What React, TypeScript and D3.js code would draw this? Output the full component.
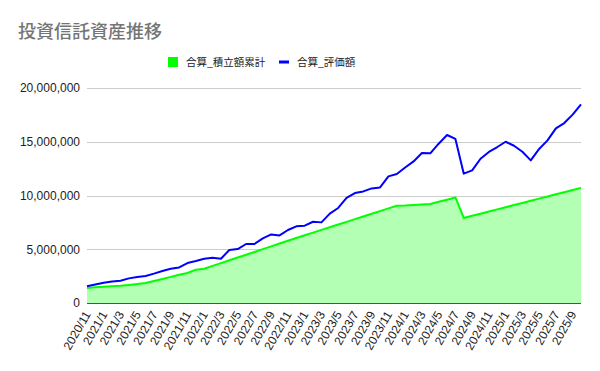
import { useEffect, useRef } from "react";
import * as d3 from "d3";

const months = [
  "2020/11", "2020/12",
  "2021/1", "2021/2", "2021/3", "2021/4", "2021/5", "2021/6", "2021/7", "2021/8", "2021/9", "2021/10", "2021/11", "2021/12",
  "2022/1", "2022/2", "2022/3", "2022/4", "2022/5", "2022/6", "2022/7", "2022/8", "2022/9", "2022/10", "2022/11", "2022/12",
  "2023/1", "2023/2", "2023/3", "2023/4", "2023/5", "2023/6", "2023/7", "2023/8", "2023/9", "2023/10", "2023/11", "2023/12",
  "2024/1", "2024/2", "2024/3", "2024/4", "2024/5", "2024/6", "2024/7", "2024/8", "2024/9", "2024/10", "2024/11", "2024/12",
  "2025/1", "2025/2", "2025/3", "2025/4", "2025/5", "2025/6", "2025/7", "2025/8", "2025/9", "2025/10",
];

// 合算_積立額累計
const contributed = [
  1400000, 1470000, 1520000, 1570000, 1610000, 1680000, 1760000, 1860000, 2050000, 2240000,
  2430000, 2620000, 2790000, 3100000, 3190000, 3450000, 3710000, 3970000, 4230000, 4490000,
  4750000, 5010000, 5270000, 5530000, 5790000, 6050000, 6300000, 6550000, 6800000, 7050000,
  7300000, 7550000, 7800000, 8050000, 8300000, 8550000, 8800000, 9050000, 9070000, 9120000,
  9170000, 9210000, 9410000, 9610000, 9820000, 7910000, 8110000, 8310000, 8510000, 8710000,
  8910000, 9110000, 9310000, 9510000, 9710000, 9910000, 10110000, 10310000, 10510000, 10710000,
];

// 合算_評価額
const valuation = [
  1560000, 1730000, 1890000, 2010000, 2070000, 2290000, 2420000, 2510000, 2730000, 2980000,
  3190000, 3310000, 3720000, 3910000, 4120000, 4210000, 4120000, 4930000, 5020000, 5490000,
  5490000, 6010000, 6380000, 6290000, 6790000, 7130000, 7190000, 7560000, 7500000, 8310000,
  8840000, 9770000, 10230000, 10380000, 10660000, 10750000, 11780000, 12000000, 12610000, 13170000,
  13950000, 13920000, 14820000, 15630000, 15260000, 12030000, 12340000, 13420000, 14050000, 14510000,
  15000000, 14630000, 14070000, 13270000, 14330000, 15130000, 16240000, 16740000, 17520000, 18470000,
];

const yTicks = [0, 5000000, 10000000, 15000000, 20000000];

const seriesNames = ["合算_積立額累計", "合算_評価額"];

const width = 600;
const height = 371;
const font = "'Liberation Sans', Arial, 'Noto Sans CJK JP', sans-serif";
const cjkFont = "'Noto Sans CJK JP', 'Liberation Sans', sans-serif";

const App = () => {
  const svgRef = useRef<SVGSVGElement | null>(null);

  useEffect(() => {
    if (!svgRef.current) return;
    const svg = d3.select(svgRef.current);
    svg.selectAll("*").remove();

    const left = 87;
    const right = 581;
    const top = 88;
    const bottom = 303;

    const x = d3.scalePoint<string>().domain(months).range([left, right]);
    const y = d3.scaleLinear().domain([0, 20000000]).range([bottom, top]);

    svg
      .append("text")
      .attr("x", 18)
      .attr("y", 38)
      .attr("font-family", cjkFont)
      .attr("font-size", 18)
      .attr("font-weight", 500)
      .attr("fill", "#757575")
      .text("投資信託資産推移");

    // gridlines
    const grid = d3
      .axisLeft(y)
      .tickValues(yTicks)
      .tickSize(-(right - left))
      .tickFormat(() => "");
    svg
      .append("g")
      .attr("transform", `translate(${left},0)`)
      .call(grid)
      .call((g) => g.select(".domain").remove())
      .call((g) => g.selectAll(".tick line").attr("stroke", "#cccccc").attr("shape-rendering", "crispEdges"));

    // y labels
    const yAxis = d3
      .axisLeft(y)
      .tickValues(yTicks)
      .tickSize(0)
      .tickPadding(7)
      .tickFormat(d3.format(","));
    svg
      .append("g")
      .attr("transform", `translate(${left},0)`)
      .call(yAxis)
      .call((g) => g.select(".domain").remove())
      .call((g) =>
        g
          .selectAll("text")
          .attr("font-family", font)
          .attr("font-size", 12)
          .attr("fill", "#222222"),
      );

    const data = months.map((m, i) => ({ m, a: contributed[i], b: valuation[i] }));

    const area = d3
      .area<{ m: string; a: number; b: number }>()
      .x((d) => x(d.m) as number)
      .y0(y(0))
      .y1((d) => y(d.a));
    svg.append("path").datum(data).attr("d", area).attr("fill", "#b3ffb3");

    const lineA = d3
      .line<{ m: string; a: number; b: number }>()
      .x((d) => x(d.m) as number)
      .y((d) => y(d.a));
    svg
      .append("path")
      .datum(data)
      .attr("d", lineA)
      .attr("fill", "none")
      .attr("stroke", "#00ff00")
      .attr("stroke-width", 2)
      .attr("stroke-linejoin", "round");

    // baseline
    svg
      .append("line")
      .attr("x1", left)
      .attr("x2", right)
      .attr("y1", y(0))
      .attr("y2", y(0))
      .attr("stroke", "#2a6e2a")
      .attr("stroke-width", 1)
      .attr("shape-rendering", "crispEdges");

    const lineB = d3
      .line<{ m: string; a: number; b: number }>()
      .x((d) => x(d.m) as number)
      .y((d) => y(d.b));
    svg
      .append("path")
      .datum(data)
      .attr("d", lineB)
      .attr("fill", "none")
      .attr("stroke", "#0000ff")
      .attr("stroke-width", 2)
      .attr("stroke-linejoin", "round");

    // x labels, every other month
    const xAxis = d3
      .axisBottom(x)
      .tickValues(months.filter((_m, i) => i % 2 === 0))
      .tickSize(0)
      .tickPadding(0);
    svg
      .append("g")
      .attr("transform", `translate(0,${bottom + 9})`)
      .call(xAxis)
      .call((g) => g.select(".domain").remove())
      .call((g) =>
        g
          .selectAll("text")
          .attr("font-family", font)
          .attr("font-size", 12)
          .attr("fill", "#222222")
          .attr("dy", "0.35em")
          .attr("y", 0)
          .attr("text-anchor", "end")
          .attr("transform", "rotate(-60)"),
      );

    // legend
    const legend = svg.append("g").attr("font-family", cjkFont).attr("font-size", 10.5).attr("fill", "#222222");
    legend.append("rect").attr("x", 168).attr("y", 57).attr("width", 10).attr("height", 10).attr("fill", "#00ff00");
    legend.append("text").attr("x", 186).attr("y", 66).text(seriesNames[0]);
    legend.append("rect").attr("x", 279).attr("y", 60.5).attr("width", 10).attr("height", 3).attr("fill", "#0000ff");
    legend.append("text").attr("x", 297).attr("y", 66).text(seriesNames[1]);
  }, []);

  return (
    <svg
      ref={svgRef}
      width={width}
      height={height}
      style={{ position: "absolute", left: 0, top: 0, background: "#ffffff" }}
    />
  );
};

export default App;
